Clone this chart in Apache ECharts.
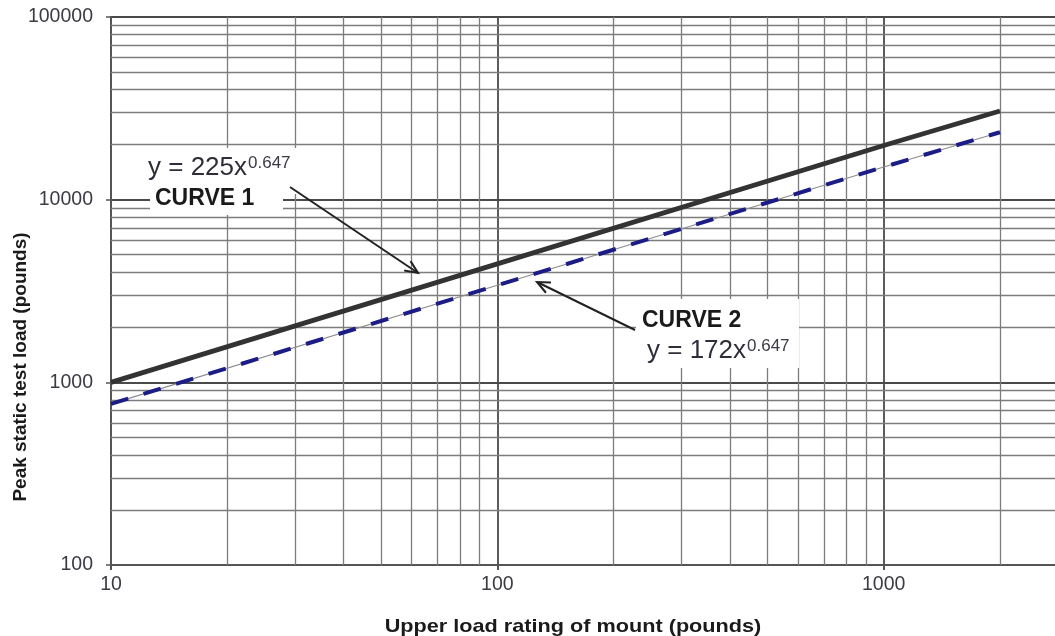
<!DOCTYPE html>
<html>
<head>
<meta charset="utf-8">
<script src="https://cdn.jsdelivr.net/npm/echarts@6/dist/echarts.min.js"></script>
<style>html,body{margin:0;padding:0;background:#fff}#c{width:1055px;height:636px}</style>
</head>
<body>
<div id="c"></div>
<script>
// ---- data ----
const curve1X = [10, 100, 1000, 2000];
const curve1Y = [1000, 4450, 19800, 30600];
const curve2X = [10, 100, 1000, 2000];
const curve2Y = [762, 3400, 15100, 23400];
const xMinorTicks = [20, 30, 40, 50, 60, 70, 80, 90, 200, 300, 400, 500, 600, 700, 800, 900, 2000];
const yMinorTicks = [200, 300, 400, 500, 600, 700, 800, 900, 2000, 3000, 4000, 5000, 6000, 7000, 8000, 9000, 20000, 30000, 40000, 50000, 60000, 70000, 80000, 90000];
const xAxisMax = 3000; // axis continues past the right edge of the picture
const xTitle = 'Upper load rating of mount (pounds)';
const yTitle = 'Peak static test load (pounds)';
const curve1Label = 'CURVE 1', curve1Eq = 'y = 225x', curve1Exp = '0.647';
const curve2Label = 'CURVE 2', curve2Eq = 'y = 172x', curve2Exp = '0.647';

const FONT = 'Liberation Sans, Arial, sans-serif';
const pair = (xs, ys) => xs.map((x, i) => [x, ys[i]]);
const isDecade = v => Math.abs(Math.log10(v) - Math.round(Math.log10(v))) < 1e-6;

const ctx = document.createElement('canvas').getContext('2d');
function textW(t, size, weight) { ctx.font = (weight || 'normal') + ' ' + size + 'px ' + FONT; return ctx.measureText(t).width; }

function arrow(x1, y1, x2, y2) {
  const a = Math.atan2(y2 - y1, x2 - x1), L = 14, s = 0.42;
  const h1 = [x2 - L * Math.cos(a - s), y2 - L * Math.sin(a - s)];
  const h2 = [x2 - L * Math.cos(a + s), y2 - L * Math.sin(a + s)];
  return [
    { type: 'line', z: 110, shape: { x1, y1, x2, y2 }, style: { stroke: '#222', lineWidth: 2 } },
    { type: 'polyline', z: 110, shape: { points: [h1, [x2, y2], h2] }, style: { stroke: '#222', lineWidth: 2, fill: null } }
  ];
}
function eq(x, y, main, exp) {
  const w = textW(main, 26);
  return [
    { type: 'text', z: 110, x, y, style: { text: main, font: '26px ' + FONT, fill: '#2e2e3a', textVerticalAlign: 'middle' } },
    { type: 'text', z: 110, x: x + w + 1, y: y - 5, style: { text: exp, font: '17px ' + FONT, fill: '#3a3a48', textVerticalAlign: 'middle' } }
  ];
}

const chart = echarts.init(document.getElementById('c'), null, { renderer: 'canvas' });
const minorLine = { color: '#7c7c7c', width: 1.3, type: 'solid' };
const majorLine = { color: '#4a4a4a', width: 1.8 };

chart.setOption({
  animation: false,
  backgroundColor: '#fff',
  grid: { left: 111, top: 17, width: 957, height: 548, containLabel: false, outerBoundsMode: 'none' },
  xAxis: {
    type: 'log', logBase: 10, min: 10, max: xAxisMax,
    axisLine: { show: true, lineStyle: { color: '#555', width: 2 } },
    axisTick: { show: true, length: 5, lineStyle: { color: '#555', width: 2 } },
    axisLabel: { margin: 10, fontSize: 19.5, fontFamily: FONT, color: '#3b3b44', formatter: v => isDecade(v) ? String(Math.round(v)) : '' },
    splitLine: { show: true, showMaxLine: false, lineStyle: majorLine },
    minorTick: { show: false }, minorSplitLine: { show: false }
  },
  yAxis: {
    type: 'log', logBase: 10, min: 100, max: 100000,
    axisLine: { show: true, lineStyle: { color: '#555', width: 2 } },
    axisTick: { show: true, length: 5, lineStyle: { color: '#555', width: 1.5 } },
    axisLabel: { margin: 18, fontSize: 19.5, fontFamily: FONT, color: '#3b3b44', formatter: v => isDecade(v) ? String(Math.round(v)) : '' },
    splitLine: { show: true, lineStyle: majorLine },
    minorTick: { show: false }, minorSplitLine: { show: false }
  },
  series: [
    {
      name: 'grid', type: 'line', data: [], z: 1, silent: true,
      markLine: {
        silent: true, symbol: ['none', 'none'], label: { show: false }, animation: false,
        lineStyle: minorLine, emphasis: { disabled: true },
        data: xMinorTicks.map(v => ({ xAxis: v })).concat(yMinorTicks.map(v => ({ yAxis: v })))
      }
    },
    {
      name: 'Curve 1', type: 'line', data: pair(curve1X, curve1Y), z: 5,
      showSymbol: false, symbol: 'none', lineStyle: { color: '#333', width: 4.8 }
    },
    {
      name: 'Curve 2 base', type: 'line', data: pair(curve2X, curve2Y), z: 5,
      showSymbol: false, symbol: 'none', lineStyle: { color: '#8c8c8c', width: 1.2 }
    },
    {
      name: 'Curve 2', type: 'line', data: pair(curve2X, curve2Y), z: 6,
      showSymbol: false, symbol: 'none', lineStyle: { color: '#1c1c86', width: 4, type: [18, 16], cap: 'butt' }
    }
  ],
  graphic: [
    { type: 'rect', z: 100, shape: { x: 144, y: 148, width: 156, height: 46 }, style: { fill: '#fff' } },
    { type: 'rect', z: 100, shape: { x: 150, y: 183, width: 133, height: 32 }, style: { fill: '#fff' } },
    { type: 'rect', z: 100, shape: { x: 636, y: 299, width: 163, height: 69 }, style: { fill: '#fff' } },
    ...eq(148, 168, curve1Eq, curve1Exp),
    { type: 'text', z: 110, x: 155, y: 199, style: { text: curve1Label, font: 'bold 23px ' + FONT, fill: '#1a1a1a', textVerticalAlign: 'middle' } },
    { type: 'text', z: 110, x: 642, y: 321, style: { text: curve2Label, font: 'bold 23px ' + FONT, fill: '#1a1a1a', textVerticalAlign: 'middle' } },
    ...eq(647, 351, curve2Eq, curve2Exp),
    ...arrow(290, 187, 418, 273),
    ...arrow(635, 330, 537, 282),
    { type: 'text', z: 110, x: 573, y: 627, scaleX: 1.14, style: { text: xTitle, font: 'bold 19px ' + FONT, fill: '#1a1a1a', textAlign: 'center', textVerticalAlign: 'middle' } },
    { type: 'text', z: 110, x: 21, y: 367, rotation: Math.PI / 2, style: { text: yTitle, font: 'bold 19px ' + FONT, fill: '#1a1a1a', textAlign: 'center', textVerticalAlign: 'middle' } }
  ]
});
</script>
</body>
</html>
